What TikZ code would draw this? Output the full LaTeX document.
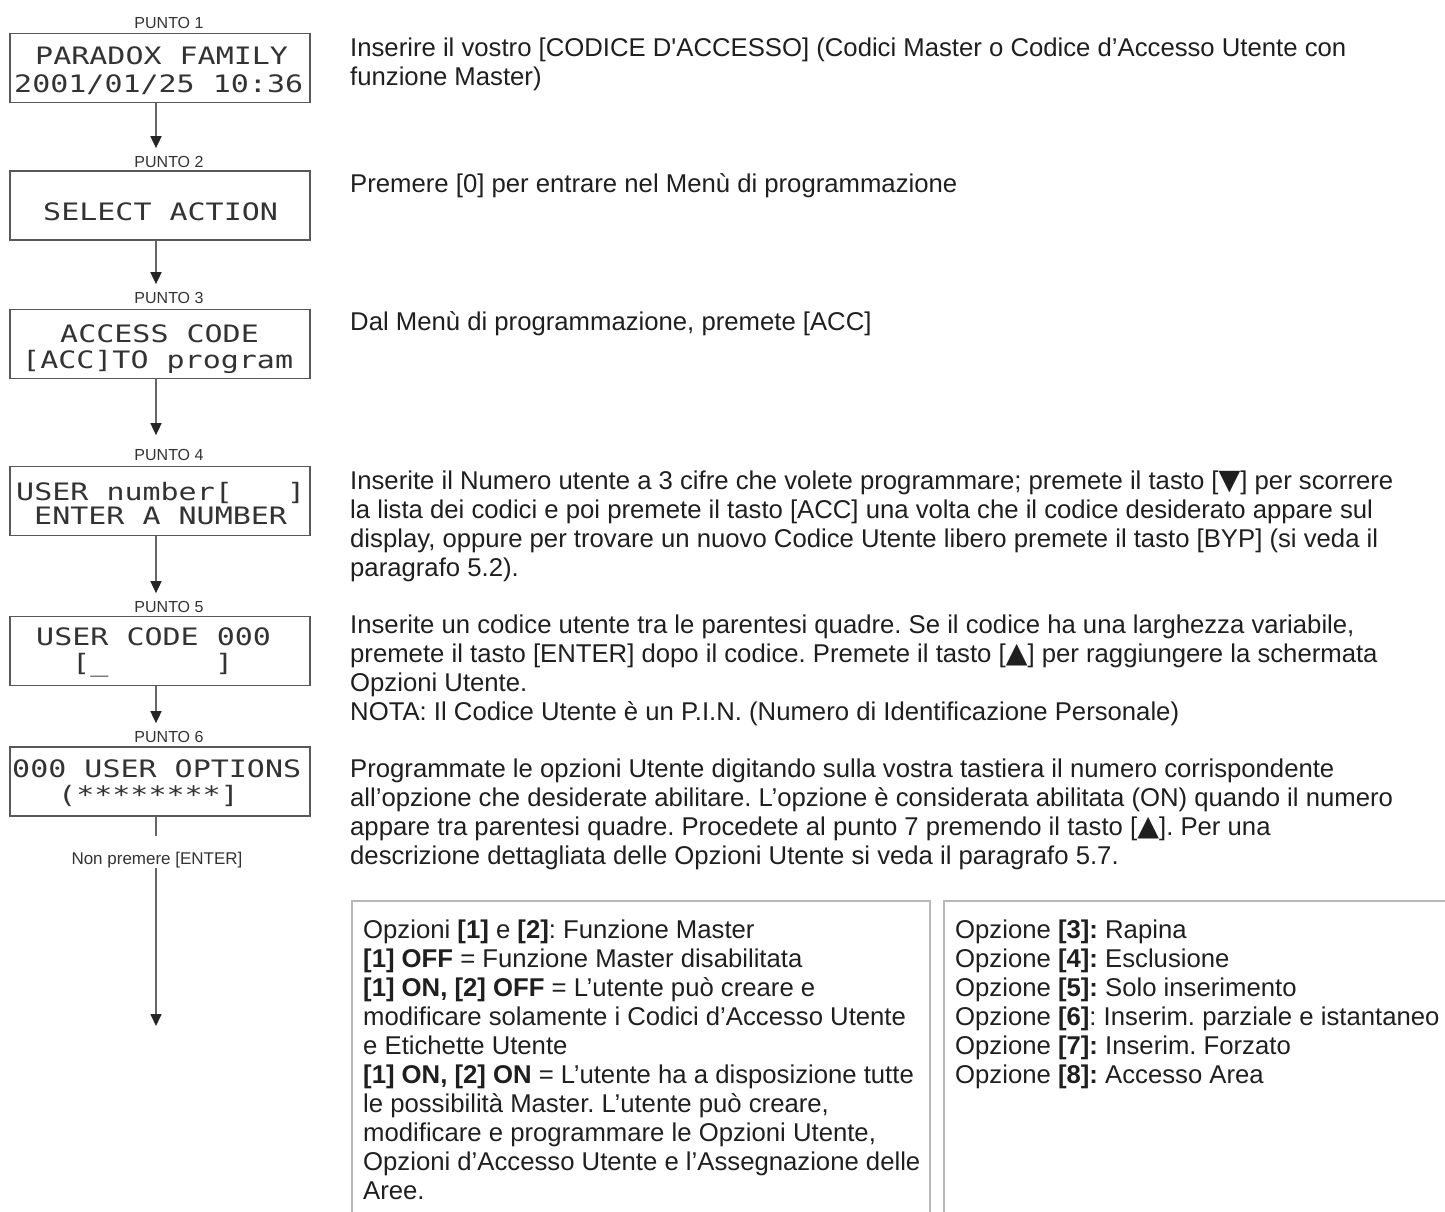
\documentclass[tikz,border=0pt]{standalone}
\usepackage{fontspec}
\setmainfont{Liberation Sans}
\newfontfamily\lcdfont{DejaVu Sans Mono}[FakeStretch=1.25]
\newfontfamily\symfont{DejaVu Sans}[Scale=1.1]
\usetikzlibrary{arrows.meta}
\frenchspacing
\begin{document}
\begin{tikzpicture}[x=1pt,y=-1pt,
  lcdbox/.style={draw=black!65, line width=1.8pt, minimum width=300pt, minimum height=69pt, inner sep=0pt},
  lcd/.style={anchor=base west, inner sep=0pt, font=\lcdfont\fontsize{24}{24}\selectfont, text=black!80},
  punto/.style={inner sep=0pt, font=\fontsize{16}{16}\selectfont, text=black!80},
  body/.style={anchor=base west, inner sep=0pt, font=\fontsize{25.7}{29}\selectfont, text=black!88},
  conn/.style={draw=black!60, line width=1.6pt},
  arr/.style={conn, shorten >=8pt, -{Triangle[width=11pt,length=12pt,color=black!85]}},
  frame/.style={draw=black!28, line width=2pt}
]
\useasboundingbox[fill=white] (0,0) rectangle (1445,1212);

% ---- LCD boxes ----
\node[lcdbox] (b1) at (160,68) {};
\node[lcdbox] (b2) at (160,205.5) {};
\node[lcdbox] (b3) at (160,344) {};
\node[lcdbox] (b4) at (160,501) {};
\node[lcdbox] (b5) at (160,651) {};
\node[lcdbox] (b6) at (160,781.5) {};

\node[lcd] (t1a) at (35,65) {PARADOX~FAMILY};
\node[lcd] (t1b) at (14,93) {2001/01/25~10:36};
\node[lcd] (t2a) at (43,220) {SELECT~ACTION};
\node[lcd] (t3a) at (60,342) {ACCESS~CODE};
\node[lcd] (t3b) at (22,368) {[ACC]TO~program};
\node[lcd] (t4a) at (16,500) {USER~number[~~~]};
\node[lcd] (t4b) at (34,524) {ENTER~A~NUMBER};
\node[lcd] (t5a) at (36,645) {USER~CODE~000};
\node[lcd] (t5b) at (72,671) {[\_};
\node[lcd] (t5c) at (215,671) {]};
\node[lcd] (t6a) at (12,777) {000~USER~OPTIONS};
\node[lcd] (t6b) at (58,803) {(********]};

% ---- PUNTO labels ----
\node[punto] (p1) at (169,22.5) {PUNTO 1};
\node[punto] (p2) at (169,162) {PUNTO 2};
\node[punto] (p3) at (169,298) {PUNTO 3};
\node[punto] (p4) at (169,455) {PUNTO 4};
\node[punto] (p5) at (169,607) {PUNTO 5};
\node[punto] (p6) at (169,737) {PUNTO 6};
\node[punto, anchor=base, font=\fontsize{17}{17}\selectfont] (np) at (157,864) {Non premere [ENTER]};
\coordinate (end) at (156,1026);

% ---- connectors ----
\draw[arr] ([xshift=-4pt]b1.south) -- ([xshift=-4pt]b1.south |- p2.north);
\draw[arr] ([xshift=-4pt]b2.south) -- ([xshift=-4pt]b2.south |- p3.north);
\draw[arr, shorten >=14pt] ([xshift=-4pt]b3.south) -- ([xshift=-4pt]b3.south |- p4.north);
\draw[arr] ([xshift=-4pt]b4.south) -- ([xshift=-4pt]b4.south |- p5.north);
\draw[arr] ([xshift=-4pt]b5.south) -- ([xshift=-4pt]b5.south |- p6.north);
\draw[conn] (b6.south -| end) -- ([yshift=15pt]np.north -| end);
\draw[arr, shorten >=0pt] (np.south -| end) -- (end);

% ---- main descriptions ----
\node[body] (r1a) at (350,57) {Inserire il vostro [CODICE D\textquotesingle ACCESSO] (Codici Master o Codice d’Accesso Utente con};
\node[body] (r1b) at (350,86) {funzione Master)};
\node[body] (r2a) at (350,192) {Premere [0] per entrare nel Menù di programmazione};
\node[body] (r3a) at (350,330) {Dal Menù di programmazione, premete [ACC]};
\node[body] (r4a) at (350,489) {Inserite il Numero utente a 3 cifre che volete programmare; premete il tasto [{\symfont ▼}] per scorrere};
\node[body] (r4b) at (350,518) {la lista dei codici e poi premete il tasto [ACC] una volta che il codice desiderato appare sul};
\node[body] (r4c) at (350,547) {display, oppure per trovare un nuovo Codice Utente libero premete il tasto [BYP] (si veda il};
\node[body] (r4d) at (350,576) {paragrafo 5.2).};
\node[body] (r5a) at (350,633) {Inserite un codice utente tra le parentesi quadre. Se il codice ha una larghezza variabile,};
\node[body] (r5b) at (350,662) {premete il tasto [ENTER] dopo il codice. Premete il tasto [{\symfont ▲}] per raggiungere la schermata};
\node[body] (r5c) at (350,691) {Opzioni Utente.};
\node[body] (r5d) at (350,720) {NOTA: Il Codice Utente è un P.I.N. (Numero di Identificazione Personale)};
\node[body] (r6a) at (350,777) {Programmate le opzioni Utente digitando sulla vostra tastiera il numero corrispondente};
\node[body] (r6b) at (350,806) {all’opzione che desiderate abilitare. L’opzione è considerata abilitata (ON) quando il numero};
\node[body] (r6c) at (350,835) {appare tra parentesi quadre. Procedete al punto 7 premendo il tasto [{\symfont ▲}]. Per una};
\node[body] (r6d) at (350,864) {descrizione dettagliata delle Opzioni Utente si veda il paragrafo 5.7.};

% ---- option frames ----
\draw[frame] (352,1216) -- (352,901) -- (930,901) -- (930,1216);
\draw[frame] (944,1216) -- (944,901) -- (1450,901);

\node[body] (l1) at (363,938) {Opzioni \textbf{[1]} e \textbf{[2]}: Funzione Master};
\node[body] (l2) at (363,967) {\textbf{[1] OFF} = Funzione Master disabilitata};
\node[body] (l3) at (363,996) {\textbf{[1] ON, [2] OFF} = L’utente può creare e};
\node[body] (l4) at (363,1025) {modificare solamente i Codici d’Accesso Utente};
\node[body] (l5) at (363,1054) {e Etichette Utente};
\node[body] (l6) at (363,1083) {\textbf{[1] ON, [2] ON} = L’utente ha a disposizione tutte};
\node[body] (l7) at (363,1112) {le possibilità Master. L’utente può creare,};
\node[body] (l8) at (363,1141) {modificare e programmare le Opzioni Utente,};
\node[body] (l9) at (363,1170) {Opzioni d’Accesso Utente e l’Assegnazione delle};
\node[body] (l10) at (363,1199) {Aree.};

\node[body] (o3) at (955,938) {Opzione \textbf{[3]:} Rapina};
\node[body] (o4) at (955,967) {Opzione \textbf{[4]:} Esclusione};
\node[body] (o5) at (955,996) {Opzione \textbf{[5]:} Solo inserimento};
\node[body] (o6) at (955,1025) {Opzione \textbf{[6]}: Inserim. parziale e istantaneo};
\node[body] (o7) at (955,1054) {Opzione \textbf{[7]:} Inserim. Forzato};
\node[body] (o8) at (955,1083) {Opzione \textbf{[8]:} Accesso Area};
\end{tikzpicture}
\end{document}
